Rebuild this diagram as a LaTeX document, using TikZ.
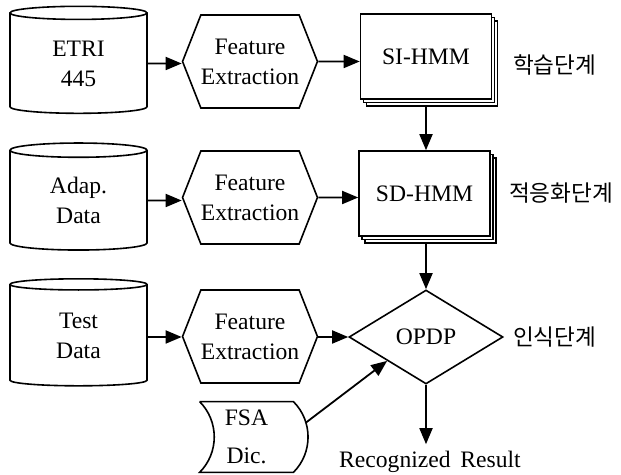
\documentclass[tikz,border=0pt]{standalone}
\usepackage{fontspec}
\setmainfont{Liberation Serif}
\newfontfamily\korfont{Noto Sans CJK KR}
\usetikzlibrary{shapes.geometric, shapes.symbols, arrows.meta, shadows}

\begin{document}
\begin{tikzpicture}[
    x=0.5pt, y=-0.5pt,
    every node/.style={font=\fontsize{11.8}{15}\selectfont},
    dbase/.style={draw, cylinder, shape border rotate=90, aspect=0.25, minimum width=68.5pt, minimum height=53.5pt, align=center, line width=0.8pt, inner sep=0pt},
    feature/.style={draw, signal, signal to=east and west, signal pointer angle=137, minimum width=65pt, minimum height=46.5pt, align=center, line width=0.8pt, inner sep=0pt},
    model/.style={draw, fill=white, line width=0.8pt, minimum width=65.5pt, minimum height=42.5pt, double copy shadow={shadow xshift=1.5pt, shadow yshift=-1.8pt}},
    decision/.style={draw, diamond, minimum width=77pt, minimum height=47pt, inner sep=0pt, line width=0.8pt},
    stage/.style={anchor=west, font=\korfont\fontsize{11.3}{13}\selectfont},
    arr/.style={-{Triangle[length=8pt, width=6.5pt]}, line width=0.9pt},
]
\useasboundingbox (0,0) rectangle (621,475);

%% Row 1: training
\node[dbase] (etri) at (78.5, 63.5) {ETRI\\445};
\node[feature] (feat1) at (250, 61.5) {Feature\\Extraction};
\node[model] (sihmm) at (426, 56.5) {SI-HMM};
\node[stage] (train) at (506, 65) {학습단계};

%% Row 2: adaptation
\node[dbase] (adap) at (78.5, 200.5) {Adap.\\Data};
\node[feature] (feat2) at (250, 197.5) {Feature\\Extraction};
\node[model] (sdhmm) at (424.5, 193.5) {SD-HMM};
\node[stage] (adapt) at (502, 193) {적응화단계};

%% Row 3: recognition
\node[dbase] (test) at (78.5, 335.5) {Test\\Data};
\node[feature] (feat3) at (250, 336.5) {Feature\\Extraction};
\node[decision] (opdp) at (426, 337) {OPDP};
\node[stage] (recog) at (506, 337) {인식단계};

\node[minimum width=46.5pt, minimum height=35pt, align=center, inner sep=0pt] (fsa) at (246.5, 437) {FSA\\[4pt]Dic.};
\draw[line width=0.8pt] (fsa.north west) -- (fsa.north east) to[bend left=45] (fsa.south east) -- (fsa.south west) to[bend right=45] (fsa.north west);

\node (result) at (430, 462) {Recognized\, Result};

%% Connections
\draw[arr] (etri) -- (etri -| feat1.west);
\draw[arr] (feat1) -- (feat1 -| sihmm.west);
\draw[arr] (adap) -- (adap -| feat2.west);
\draw[arr] (feat2) -- (feat2 -| sdhmm.west);
\draw[arr] (test.east |- opdp) -- (feat3.west |- opdp);
\draw[arr] (feat3.east |- opdp) -- (opdp.west);

\draw[arr] ([yshift=-3pt]sihmm.south) -- (sihmm.south |- sdhmm.north);
\draw[arr] ([yshift=-3pt]opdp.north |- sdhmm.south) -- (opdp.north);
\draw[arr] (opdp.south) -- (opdp.south |- result.north);
\draw[arr] ([xshift=6pt, yshift=7pt]fsa.east) -- (opdp.south west);

\end{tikzpicture}
\end{document}
